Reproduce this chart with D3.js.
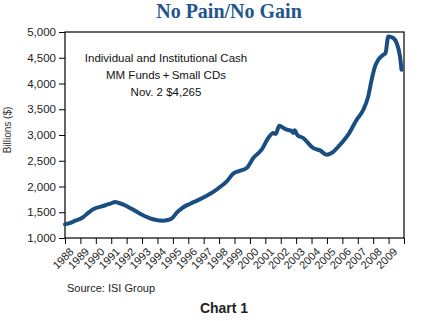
<!DOCTYPE html>
<html>
<head>
<meta charset="utf-8">
<script src="https://cdn.jsdelivr.net/npm/d3@7"></script>
<style>
  html, body { margin: 0; padding: 0; background: #fff; }
  svg { display: block; }
</style>
</head>
<body>
<svg id="chart" width="442" height="321"></svg>
<script>
// ---- Data ----
const yearTicks = d3.range(1988, 2011);               // tick positions (yearly)
const yearLabels = d3.range(1988, 2010).map(String);  // labels 1988..2009
const yTicks = [1000, 1500, 2000, 2500, 3000, 3500, 4000, 4500, 5000];

// decimal year and cash balance (billions $)
const dates = [
  1988.0, 1988.3, 1988.67, 1989.1, 1989.54, 1989.86, 1990.4, 1990.94, 1991.26,
  1991.5, 1991.8, 1992.35, 1993.0, 1993.65, 1994.3, 1994.73, 1995.0, 1995.27,
  1995.6, 1996.13, 1996.6, 1997.2, 1997.6, 1998.06, 1998.5, 1998.92, 1999.3,
  1999.79, 2000.22, 2000.76, 2001.19, 2001.52, 2001.68, 2001.9, 2002.1,
  2002.39, 2002.7, 2002.8, 2002.9, 2003.1, 2003.46, 2003.68, 2004.1, 2004.55,
  2004.98, 2005.3, 2005.85, 2006.38, 2006.93, 2007.36, 2007.68, 2007.9,
  2008.12, 2008.33, 2008.66, 2008.8, 2008.98, 2009.3, 2009.52, 2009.74, 2009.84
];
const values = [
  1265, 1290, 1336, 1388, 1497, 1563, 1614, 1666, 1699,
  1680, 1647, 1563, 1452, 1369, 1336, 1355, 1400, 1497,
  1582, 1666, 1730, 1821, 1890, 1990, 2100, 2249, 2300,
  2359, 2553, 2715, 2942, 3039, 3020, 3181, 3150,
  3103, 3080, 3040, 3090, 2990, 2942, 2876, 2748, 2701,
  2617, 2650, 2812, 3006, 3297, 3491, 3750, 4074,
  4332, 4462, 4559, 4590, 4914, 4883, 4786, 4526, 4265
];
const annotation = ["Individual and Institutional Cash", "MM Funds\u2009+\u2009Small CDs", "Nov. 2 $4,265"];

// ---- Layout ----
const svg = d3.select("#chart");
const m = { left: 65, right: 404, top: 32, bottom: 238 };

const x = d3.scaleLinear().domain([1988, 2010]).range([m.left, m.right]);
const y = d3.scaleLinear().domain([1000, 5000]).range([m.bottom, m.top]);

// Title
svg.append("text")
  .attr("x", 229).attr("y", 18)
  .attr("text-anchor", "middle")
  .attr("font-family", "'Liberation Serif', 'DejaVu Serif', serif")
  .attr("font-weight", "bold")
  .attr("font-size", 20)
  .attr("fill", "#24568a")
  .text("No Pain/No Gain");

// Frame
svg.append("rect")
  .attr("x", m.left).attr("y", m.top)
  .attr("width", m.right - m.left).attr("height", m.bottom - m.top)
  .attr("fill", "none").attr("stroke", "#000").attr("stroke-width", 1.2);

// Y axis
const yAxis = d3.axisLeft(y).tickValues(yTicks).tickSize(6).tickPadding(3)
  .tickFormat(d3.format(","));
const gy = svg.append("g").attr("transform", `translate(${m.left},0)`).call(yAxis);
gy.select(".domain").remove();
gy.selectAll("line").attr("stroke", "#000");
gy.selectAll("text").attr("font-family", "'Liberation Sans', Arial, sans-serif")
  .attr("font-size", 11.5).attr("fill", "#222");

// X axis
const xAxis = d3.axisBottom(x).tickValues(yearTicks).tickSize(6).tickFormat("");
const gx = svg.append("g").attr("transform", `translate(0,${m.bottom})`).call(xAxis);
gx.select(".domain").remove();
gx.selectAll("line").attr("stroke", "#000");

svg.append("g").selectAll("text").data(yearLabels).join("text")
  .attr("transform", d => `translate(${x(+d) + 4},${m.bottom + 9}) rotate(-45)`)
  .attr("text-anchor", "end")
  .attr("dy", "0.7em")
  .attr("font-family", "'Liberation Sans', Arial, sans-serif")
  .attr("font-size", 11)
  .attr("fill", "#222")
  .text(d => d);

// Y axis title
svg.append("text")
  .attr("transform", "translate(11,130) rotate(-90)")
  .attr("text-anchor", "middle")
  .attr("font-family", "'Liberation Sans', Arial, sans-serif")
  .attr("font-size", 10)
  .attr("fill", "#333")
  .text("Billions ($)");

// Annotation
svg.append("g").selectAll("text").data(annotation).join("text")
  .attr("x", 166).attr("y", (d, i) => 62 + i * 17)
  .attr("text-anchor", "middle")
  .attr("font-family", "'Liberation Sans', Arial, sans-serif")
  .attr("font-size", 11.5)
  .attr("fill", "#111")
  .text(d => d);

// Line
const pts = dates.map((d, i) => [d, values[i]]);
const line = d3.line().x(d => x(d[0])).y(d => y(d[1])).curve(d3.curveMonotoneX);
svg.append("path").datum(pts)
  .attr("d", line)
  .attr("fill", "none")
  .attr("stroke", "#1a4e80")
  .attr("stroke-width", 4)
  .attr("stroke-linejoin", "round")
  .attr("stroke-linecap", "round");

// Source
svg.append("text")
  .attr("x", 67).attr("y", 292)
  .attr("font-family", "'Liberation Sans', Arial, sans-serif")
  .attr("font-size", 11)
  .attr("fill", "#222")
  .text("Source: ISI Group");

// Chart label
svg.append("text")
  .attr("x", 224).attr("y", 313)
  .attr("text-anchor", "middle")
  .attr("font-family", "'Liberation Sans', Arial, sans-serif")
  .attr("font-weight", "bold")
  .attr("font-size", 14)
  .attr("fill", "#222")
  .text("Chart 1");
</script>
</body>
</html>
